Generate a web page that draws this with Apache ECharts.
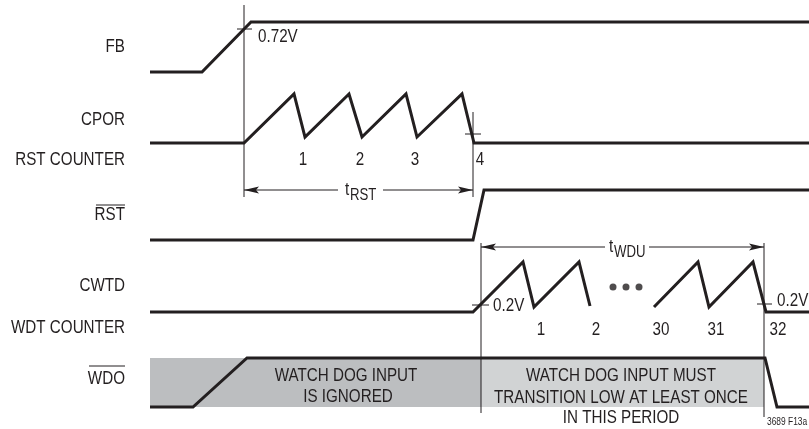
<!DOCTYPE html>
<html>
<head>
<meta charset="utf-8">
<script src="https://cdn.jsdelivr.net/npm/echarts@6/dist/echarts.min.js"></script>
<style>
  body { margin: 0; background: #fff; }
  #chart { width: 809px; height: 429px; }
</style>
</head>
<body>
<div id="chart"></div>
<script>
// waveforms: [time, level]
const fbWave = [[150, 72], [202, 72], [251, 22], [809, 22]];
const cporWave = [[150, 143], [244, 143], [294, 94], [305, 137], [349, 94], [362, 137],
  [406, 94], [417, 137], [462, 94], [474, 143], [809, 143]];
const rstWave = [[150, 240], [473, 240], [484, 190], [809, 190]];
const cwtdWaveA = [[150, 312], [473, 312], [523, 262], [534, 307], [579, 262], [590, 306]];
const cwtdWaveB = [[654, 307], [698, 262], [709, 307], [753, 262], [766, 312], [809, 312]];
const wdoWave = [[150, 407], [193, 407], [247, 358], [765, 358], [777, 407], [809, 407]];
const dots = [[613, 287], [626, 287], [639, 287]];

const signalNames = ['FB', 'CPOR', 'RST COUNTER', 'RST', 'CWTD', 'WDT COUNTER', 'WDO'];
const signalRows = [47, 120, 160, 215, 286, 328, 379];

const rstCounts = ['1', '2', '3', '4'];
const rstCountAt = [303, 360, 415, 480];
const wdtCounts = ['1', '2', '30', '31', '32'];
const wdtCountAt = [541, 596, 661, 716, 778];

// timing markers
const markers = [[244, 5, 244, 197], [473, 112, 473, 197], [481, 243, 481, 413], [764, 243, 764, 417],
  [237, 29, 252, 29], [465, 134, 481, 134], [472, 305, 489, 305], [757, 304, 772, 304],
  [244, 190, 338, 190], [383, 190, 473, 190], [481, 247, 605, 247], [649, 247, 764, 247],
  [96, 205, 125, 205], [89, 366, 125, 366]];
const arrowTips = [[244, 190, 1], [473, 190, -1], [481, 247, 1], [764, 247, -1]];
const zones = [[150, 358, 481, 407, '#bcbec0'], [481, 358, 764, 407, '#d1d3d4']];

const black = '#231f20';
const FONT = '"Liberation Sans", Arial, sans-serif';
const NARROW = 0.8; // squeeze to a narrow grotesque

// [x, y, text, align, size]
const texts = [];
signalNames.forEach((n, i) => texts.push([125, signalRows[i], n, 'right', 19]));
rstCounts.forEach((n, i) => texts.push([rstCountAt[i], 160, n, 'center', 19]));
wdtCounts.forEach((n, i) => texts.push([wdtCountAt[i], 330, n, 'center', 19]));
texts.push([258, 37, '0.72V', 'left', 19]);
texts.push([493, 306, '0.2V', 'left', 19]);
texts.push([777, 301, '0.2V', 'left', 19]);
texts.push([347, 190, 't', 'center', 19]);
texts.push([350, 195, 'RST', 'left', 16.5]);
texts.push([611, 247, 't', 'center', 19]);
texts.push([614, 252, 'WDU', 'left', 16.5]);
texts.push([346, 376, 'WATCH DOG INPUT', 'center', 19]);
texts.push([348, 397, 'IS IGNORED', 'center', 19]);
texts.push([621, 376, 'WATCH DOG INPUT MUST', 'center', 19]);
texts.push([621, 398, 'TRANSITION LOW AT LEAST ONCE', 'center', 19]);
texts.push([621, 418, 'IN THIS PERIOD', 'center', 19]);
texts.push([767, 422, '3689 F13a', 'left', 10.5]);

function wave(data) {
  return {
    type: 'line', data: data, showSymbol: false, silent: true,
    lineStyle: { color: black, width: 3, join: 'miter', miterLimit: 3 }
  };
}

var myChart = echarts.init(document.getElementById('chart'));
var option = {
  animation: false,
  grid: { left: 0, right: 0, top: 0, bottom: 0 },
  xAxis: { type: 'value', min: 0, max: 809, show: false },
  yAxis: { type: 'value', min: 0, max: 429, inverse: true, show: false },
  series: [
    {
      type: 'custom', silent: true, data: zones.map(z => [z[0], z[1]]),
      renderItem: function (params, api) {
        const z = zones[params.dataIndex];
        const a = api.coord([z[0], z[1]]), b = api.coord([z[2], z[3]]);
        return { type: 'rect', shape: { x: a[0], y: a[1], width: b[0] - a[0], height: b[1] - a[1] },
          style: { fill: z[4] } };
      }
    },
    {
      type: 'custom', silent: true, data: markers.map(m => [m[0], m[1]]),
      renderItem: function (params, api) {
        const m = markers[params.dataIndex];
        const a = api.coord([m[0], m[1]]), b = api.coord([m[2], m[3]]);
        return { type: 'line', shape: { x1: a[0], y1: a[1], x2: b[0], y2: b[1] },
          style: { stroke: black, lineWidth: 1 } };
      }
    },
    {
      type: 'custom', silent: true, data: arrowTips.map(t => [t[0], t[1]]),
      renderItem: function (params, api) {
        const t = arrowTips[params.dataIndex];
        const p = api.coord([t[0], t[1]]), d = t[2];
        return { type: 'polygon',
          shape: { points: [[p[0], p[1]], [p[0] + d * 15, p[1] - 3.5], [p[0] + d * 12, p[1]], [p[0] + d * 15, p[1] + 3.5]] },
          style: { fill: black } };
      }
    },
    wave(fbWave), wave(cporWave), wave(rstWave), wave(cwtdWaveA), wave(cwtdWaveB), wave(wdoWave),
    {
      type: 'scatter', data: dots, symbolSize: 7, silent: true,
      itemStyle: { color: black }
    },
    {
      type: 'custom', silent: true, data: texts.map(t => [t[0], t[1]]),
      renderItem: function (params, api) {
        const t = texts[params.dataIndex];
        const p = api.coord([t[0], t[1]]);
        return { type: 'text', x: p[0], y: p[1], scaleX: NARROW,
          style: { text: t[2], fill: black, fontSize: t[4], fontFamily: FONT,
            align: t[3], verticalAlign: 'middle' } };
      }
    }
  ]
};
myChart.setOption(option);
</script>
</body>
</html>
